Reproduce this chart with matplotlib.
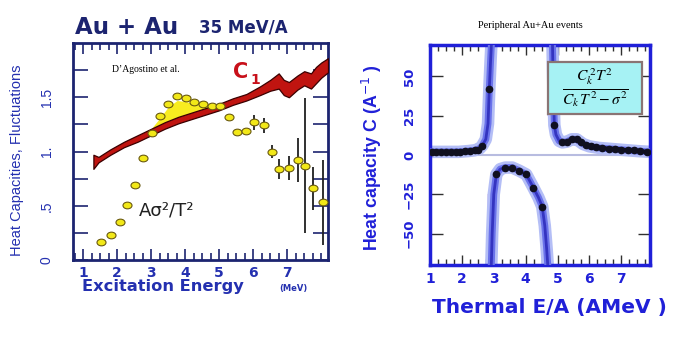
import numpy as np
import matplotlib
matplotlib.use("Agg")
import matplotlib.pyplot as plt
from matplotlib.path import Path
from matplotlib.transforms import Affine2D
from matplotlib.patches import Rectangle

# ---- left panel data (Au+Au 35 MeV/A) ----
pts_x = [1.53, 1.82, 2.09, 2.29, 2.53, 2.76, 3.03, 3.26, 3.50, 3.76, 4.03, 4.26, 4.53, 4.79,
         5.03, 5.29, 5.53, 5.79, 6.03, 6.32, 6.56, 6.76, 7.06, 7.32, 7.53, 7.76, 8.06]
pts_y = [0.17, 0.23, 0.35, 0.51, 0.69, 0.94, 1.17, 1.33, 1.44, 1.51, 1.49, 1.46, 1.44, 1.42,
         1.42, 1.32, 1.18, 1.19, 1.27, 1.24, 1.00, 0.84, 0.85, 0.92, 0.87, 0.66, 0.53]
pts_err = [0, 0, 0, 0, 0, 0, 0, 0, 0, 0, 0, 0, 0, 0,
           0, 0, 0, 0, 0.07, 0.07, 0.06, 0.09, 0.11, 0.20, 0.62, 0.20, 0.39]

c1_x = [1.30, 1.45, 1.8, 2.2, 2.6, 3.0, 3.4, 3.8, 4.2, 4.6, 5.0, 5.4, 5.8, 6.2,
        6.5, 6.75, 6.9, 7.05, 7.3, 7.5, 7.7, 7.85, 8.0, 8.2]
c1_lo = [0.84, 0.90, 0.97, 1.04, 1.09, 1.15, 1.21, 1.26, 1.30, 1.34, 1.38, 1.43, 1.47, 1.52,
         1.56, 1.58, 1.52, 1.50, 1.57, 1.61, 1.58, 1.63, 1.68, 1.73]
c1_hi = [0.97, 0.95, 1.02, 1.09, 1.15, 1.21, 1.27, 1.32, 1.36, 1.40, 1.44, 1.49, 1.53, 1.60,
         1.66, 1.72, 1.66, 1.64, 1.70, 1.74, 1.72, 1.78, 1.82, 1.86]

# yellow excess region (points above C1)
yel_x = [3.0, 3.26, 3.50, 3.76, 4.03, 4.26, 4.53, 4.79, 5.0]
yel_top = [1.21, 1.31, 1.41, 1.47, 1.46, 1.44, 1.42, 1.41, 1.44]

# ---- right panel data (peripheral Au+Au) ----
pl_x = [1.0, 1.3, 1.6, 1.9, 2.2, 2.4, 2.55, 2.64, 2.75, 2.82, 2.86, 2.90, 2.93]
pl_y = [2, 2, 2, 2, 2.5, 3, 4, 6, 10, 20, 42, 60, 72]
pl_dx = [1.05, 1.2, 1.35, 1.5, 1.65, 1.8, 1.95, 2.1, 2.25, 2.4, 2.52, 2.64, 2.86]
pl_dy = [2, 2, 2, 2, 2, 2, 2, 2.5, 2.5, 3, 3.5, 6, 42]

pr_x = [4.84, 4.87, 4.9, 4.95, 5.05, 5.15, 5.3, 5.45, 5.6, 5.8, 6.0, 6.3, 6.6, 6.9, 7.2, 7.5, 7.9]
pr_y = [72, 40, 19, 13, 9, 8, 8.5, 10, 10, 7, 5.5, 4.5, 4, 3.5, 3, 2.5, 2]
pr_dx = [4.9, 5.15, 5.3, 5.45, 5.6, 5.75, 5.9, 6.05, 6.2, 6.4, 6.6, 6.8, 7.0, 7.2, 7.4, 7.6, 7.8]
pr_dy = [19, 8, 8.5, 10, 10, 8, 6.5, 5.5, 5, 4.5, 4, 4, 3.5, 3, 3, 2.5, 2]

ng_x = [2.92, 2.95, 3.0, 3.08, 3.2, 3.36, 3.58, 3.8, 4.02, 4.24, 4.4, 4.52, 4.6, 4.66, 4.7]
ng_y = [-72, -50, -25, -12.4, -9, -8, -8, -10, -12.4, -20.7, -27, -32.8, -45, -60, -72]
ng_dx = [3.08, 3.36, 3.58, 3.8, 4.02, 4.24, 4.52]
ng_dy = [-12.4, -8, -8, -10, -12.4, -20.7, -32.8]

navy = "#1c2470"
lblue = "#2430b0"
rblue = "#2020d8"

fig = plt.figure(figsize=(6.78, 3.39), dpi=100)

# ================= left panel =================
ax = fig.add_axes([73/678, 1-260/339, 255/678, 217/339])
ax.set_xlim(0.7, 8.2)
ax.set_ylim(0, 2.0)

ax.fill_between(yel_x, np.interp(yel_x, c1_x, c1_hi), yel_top, color="#f8ec20", lw=0, zorder=2)
ax.fill_between(c1_x, c1_lo, c1_hi, facecolor="#c01410", edgecolor="#3a0000", lw=0.9, zorder=3)

ell = Path.unit_circle().transformed(Affine2D().scale(1.35, 1.0))
ax.errorbar(pts_x, pts_y, yerr=pts_err, fmt="none", ecolor="#202020", elinewidth=1.3, zorder=4)
ax.plot(pts_x, pts_y, linestyle="none", marker=ell, markersize=6.5,
        markerfacecolor="#f2e818", markeredgecolor="#6a5a10", markeredgewidth=0.8, zorder=5)

ax.text(1.85, 1.76, "D’Agostino et al.", family="Liberation Serif", fontsize=7, va="center")
ax.text(5.4, 1.73, "C", color="#c8101a", fontsize=15, fontweight="bold", va="center")
ax.text(5.93, 1.66, "1", color="#c8101a", fontsize=10, fontweight="bold", va="center")
ax.text(2.65, 0.46, "Aσ²/T²", color="#202020", fontsize=13, va="center")

ax.set_xticks([1, 2, 3, 4, 5, 6, 7])
ax.set_xticks(np.arange(0.75, 8.2, 0.25), minor=True)
ax.set_yticks([0, 0.5, 1.0, 1.5])
ax.set_yticklabels(["0", ".5", "1.", "1.5"], rotation=90, va="center", family="Liberation Sans")
ax.set_yticks(np.arange(0.25, 2.0, 0.25), minor=True)
ax.tick_params(axis="both", which="both", direction="in", top=True, right=True, color=navy, width=1.2)
ax.tick_params(axis="x", which="major", length=8, labelsize=10, labelcolor=lblue, pad=4)
ax.tick_params(axis="x", which="minor", length=5)
ax.tick_params(axis="y", which="both", length=11, labelsize=10, labelcolor=lblue, pad=14)
for lab in ax.get_xticklabels():
    lab.set_fontweight("bold")
for s in ax.spines.values():
    s.set_color(navy)
    s.set_linewidth(2)

fig.text(75/678, 1-28/339, "Au + Au", color=navy, fontsize=16.5, fontweight="bold", va="center")
fig.text(199/678, 1-28/339, "35 MeV/A", color=navy, fontsize=12, fontweight="bold", va="center")
fig.text(82/678, 1-287/339, "Excitation Energy", color=lblue, fontsize=11.7, fontweight="bold", va="center")
fig.text(293/678, 1-289/339, "(MeV)", color=lblue, fontsize=6, fontweight="bold", va="center", ha="center")
fig.text(17/678, 1-160/339, "Heat Capacities, Fluctuations", color=lblue, fontsize=10.5, rotation=90,
         va="center", ha="center", family="Liberation Sans")

# ================= right panel =================
bx = fig.add_axes([430/678, 1-265/339, 220/678, 220/339])
bx.set_xlim(1, 7.9)
bx.set_ylim(-70, 70)

bx.axhline(0, color="#b8bce0", lw=1.5, zorder=1)
bx.fill_betweenx([35, 70], 2.82, 2.95, color="#dccff2", lw=0, zorder=1)
bx.fill_betweenx([25, 70], 4.68, 4.95, color="#dccff2", lw=0, zorder=1)
bx.fill_betweenx([-70, -25], 2.80, 2.92, color="#e8d8f0", lw=0, zorder=1)

for cx, cy in [(pl_x, pl_y), (pr_x, pr_y), (ng_x, ng_y)]:
    bx.plot(cx, cy, color="#b4bef6", lw=9, solid_capstyle="butt", zorder=2)
    bx.plot(cx, cy, color="#6a72ea", lw=5, solid_capstyle="butt", zorder=3)
    bx.plot(cx, cy, color="#3434c0", lw=2, solid_capstyle="butt", zorder=3)

for dx, dy in [(pl_dx, pl_dy), (pr_dx, pr_dy), (ng_dx, ng_dy)]:
    bx.plot(dx, dy, linestyle="none", marker="o", markersize=4.5, color="#101020", zorder=4)
bx.plot(pl_dx[:11], pl_dy[:11], color="#101020", lw=3, zorder=4)
bx.plot(pr_dx[2:], pr_dy[2:], color="#101020", lw=3, zorder=4)

bx.add_patch(Rectangle((0.536, 0.686), 0.427, 0.236, transform=bx.transAxes,
                       facecolor="#a6f2f4", edgecolor="#8a7474", lw=1.6, zorder=6))
bx.text(0.75, 0.804, r"$\frac{C_k^{\,2}T^2}{C_k\,T^2-\sigma^2}$", transform=bx.transAxes,
        ha="center", va="center", fontsize=16, math_fontfamily="stix", zorder=7)

bx.set_xticks([1, 2, 3, 4, 5, 6, 7])
bx.set_xticks(np.arange(1.25, 7.9, 0.25), minor=True)
bx.set_yticks([-50, -25, 0, 25, 50])
bx.set_yticklabels(["−50", "−25", "0", "25", "50"], rotation=90, va="center", fontweight="bold")
bx.tick_params(axis="both", which="both", direction="in", top=True, right=True, color="#303030", width=1)
bx.tick_params(axis="x", which="major", length=7, labelsize=10, labelcolor=rblue, pad=5)
bx.tick_params(axis="x", which="minor", length=4)
bx.tick_params(axis="y", which="major", length=9, labelsize=9.5, labelcolor=rblue, pad=10)
for lab in bx.get_xticklabels():
    lab.set_fontweight("bold")
for s in bx.spines.values():
    s.set_color(rblue)
    s.set_linewidth(2.5)

fig.text(530/678, 1-25/339, "Peripheral Au+Au events", family="Liberation Serif", fontsize=7.5,
         ha="center", va="center")
fig.text(372/678, 1-158/339, "Heat capacity C (A$^{-1}$ )", color=rblue, fontsize=12.8, fontweight="bold",
         rotation=90, ha="center", va="center", family="Liberation Sans")
fig.text(549/678, 1-307/339, "Thermal E/A (AMeV )", color=rblue, fontsize=14.5, fontweight="bold",
         ha="center", va="center", family="DejaVu Sans")

fig.savefig("out.png", dpi=100)
